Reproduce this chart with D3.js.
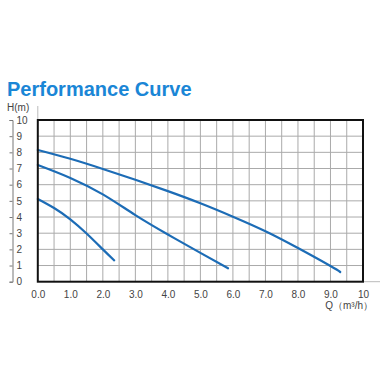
<!DOCTYPE html>
<html>
<head>
<meta charset="utf-8">
<script src="https://cdn.jsdelivr.net/npm/d3@7"></script>
<style>
  body { margin: 0; background: #fff; }
  svg { font-family: "Liberation Sans", Arial, sans-serif; }
</style>
</head>
<body>
<svg id="chart" width="384" height="384"></svg>
<script>
// values
const xTicks = [0, 1, 2, 3, 4, 5, 6, 7, 8, 9, 10];
const yTicks = [0, 1, 2, 3, 4, 5, 6, 7, 8, 9, 10];

const curveHigh = [[0, 8.15], [1, 7.6], [2, 6.97], [3, 6.3], [4, 5.6], [5, 4.85], [6, 4.02], [7, 3.12], [8, 2.08], [9, 0.97], [9.3, 0.6]];
const curveMid = [[0, 7.22], [1, 6.42], [2, 5.4], [3, 4.12], [4, 2.92], [5, 1.78], [5.85, 0.83]];
const curveLow = [[0, 5.12], [0.5, 4.56], [1, 3.86], [1.5, 2.98], [2, 2.0], [2.35, 1.32]];

const svg = d3.select("#chart");

const x = d3.scaleLinear().domain([0, 10]).range([37.8, 363]);
const y = d3.scaleLinear().domain([0, 10]).range([281.7, 120]);

// title
svg.append("text")
    .attr("x", 7)
    .attr("y", 96)
    .attr("fill", "#1a86d6")
    .style("font-size", "20px")
    .style("font-weight", "bold")
    .text("Performance Curve");

// light guide lines (left border going up, bottom going right)
svg.append("line")
    .attr("x1", x(0)).attr("x2", x(0))
    .attr("y1", 106).attr("y2", y(10))
    .attr("stroke", "#bbb");
svg.append("line")
    .attr("x1", x(10)).attr("x2", 380)
    .attr("y1", y(0)).attr("y2", y(0))
    .attr("stroke", "#bbb");

// grid
svg.append("g")
    .selectAll("line")
    .data(d3.range(0.5, 10, 0.5))
    .enter().append("line")
    .attr("x1", d => x(d)).attr("x2", d => x(d))
    .attr("y1", y(0)).attr("y2", y(10))
    .attr("stroke", "#aaa")
    .attr("stroke-width", 1);
svg.append("g")
    .selectAll("line")
    .data(yTicks.slice(1, -1))
    .enter().append("line")
    .attr("x1", x(0)).attr("x2", x(10))
    .attr("y1", d => y(d)).attr("y2", d => y(d))
    .attr("stroke", "#aaa")
    .attr("stroke-width", 1);

// curves
const line = d3.line()
    .x(d => x(d[0]))
    .y(d => y(d[1]))
    .curve(d3.curveNatural);

[curveHigh, curveMid, curveLow].forEach(function(c) {
    svg.append("path")
        .datum(c)
        .attr("d", line)
        .attr("fill", "none")
        .attr("stroke", "#1c6cb6")
        .attr("stroke-width", 2.2)
        .attr("stroke-linecap", "round");
});

// frame
svg.append("rect")
    .attr("x", x(0)).attr("y", y(10))
    .attr("width", x(10) - x(0))
    .attr("height", y(0) - y(10))
    .attr("fill", "none")
    .attr("stroke", "#111")
    .attr("stroke-width", 2);

// y axis: ticks on the left of the line, labels on the right of it
const yAxis = svg.append("g")
    .attr("transform", "translate(12.5,0)")
    .call(d3.axisLeft(y).tickValues(yTicks).tickSize(3).tickSizeOuter(3));
yAxis.selectAll("path, line").attr("stroke", "#777");
yAxis.selectAll("text")
    .attr("x", 4)
    .attr("text-anchor", "start")
    .attr("fill", "#444")
    .style("font-size", "10px")
    .style("font-family", "'Liberation Sans', Arial, sans-serif");

svg.append("text")
    .attr("x", 7)
    .attr("y", 111)
    .attr("fill", "#444")
    .style("font-size", "10px")
    .text("H(m)");

// x axis labels
const xAxis = svg.append("g")
    .attr("transform", "translate(0," + y(0) + ")")
    .call(d3.axisBottom(x).tickValues(xTicks).tickSize(0)
        .tickFormat(d => d === 10 ? "10" : d.toFixed(1)));
xAxis.select(".domain").remove();
xAxis.selectAll("text")
    .attr("dy", "1.3em")
    .attr("fill", "#444")
    .style("font-size", "10px")
    .style("font-family", "'Liberation Sans', Arial, sans-serif");

svg.append("text")
    .attr("x", 373)
    .attr("y", 309)
    .attr("text-anchor", "end")
    .attr("fill", "#444")
    .style("font-size", "10px")
    .text("Q（m³/h）");
</script>
</body>
</html>
